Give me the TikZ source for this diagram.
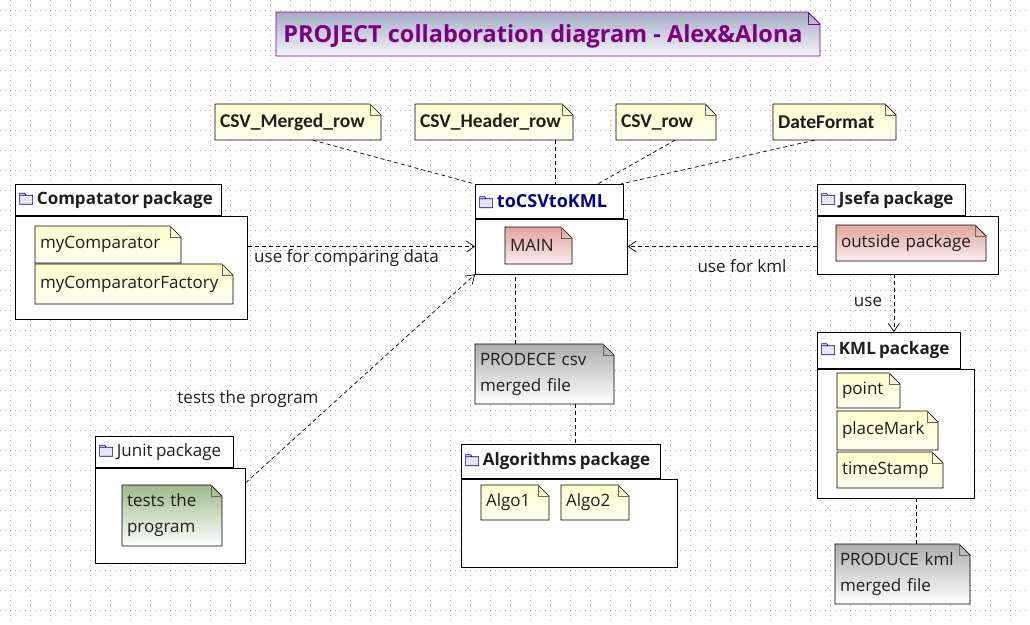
\documentclass[tikz,border=0pt]{standalone}
\usepackage{fontspec}
\setmainfont{Open Sans}
\newfontfamily\calfont{Carlito}
\usetikzlibrary{arrows.meta,calc}
\definecolor{ttlpurple}{HTML}{7F007F}
\definecolor{navy}{HTML}{000080}
\definecolor{ttltop}{HTML}{A4ABC6}
\definecolor{ttlbot}{HTML}{F4F5FA}
\definecolor{txt}{HTML}{1E1E1E}
\definecolor{pinktop}{HTML}{E2A49E}
\definecolor{pinkbot}{HTML}{FBEEEC}
\definecolor{greentop}{HTML}{9DB98A}
\tikzset{
  dep/.style={dash pattern=on 4pt off 3pt, line width=0.7pt},
  deparr/.style={dep, -{Straight Barb[length=8pt,width=11pt,line width=0.7pt]}},
  yellownote/.style={top color=yellow!20, bottom color=yellow!5!white},
  pinknote/.style={top color=pinktop, bottom color=pinkbot},
  graynote/.style={top color=black!32, bottom color=white},
  greennote/.style={top color=greentop, bottom color=white},
  pkgtab/.style={draw, fill=white, line width=0.7pt, anchor=north west, inner xsep=4pt, inner ysep=0pt, align=left, text=txt},
  pkgbody/.style={draw, fill=white, line width=0.7pt, anchor=north west, inner sep=0pt},
  lbl/.style={font=\fontsize{17}{20}\selectfont, inner sep=1pt, text=txt},
}
\newcommand\folder{\tikz[x=1pt,y=1pt,baseline=0pt]{\draw[fill=blue!10, draw=blue!55!black, line width=0.6pt] (0,0) rectangle (13,9) (0,9) -- (0,11) -- (5,11) -- (6.5,9);}\hspace{4pt}}
% name, x1, y1, x2, y2, fill style, text
\newcommand\dognote[7]{%
  \pgfmathsetmacro\nw{#4-#2}\pgfmathsetmacro\nh{#5-#3}%
  \pgfmathsetmacro\ncx{(#2+#4)/2}\pgfmathsetmacro\ncy{(#3+#5)/2}%
  \pgfmathsetmacro\ntw{#4-#2-10}%
  \path[#6, draw=black, line width=0.7pt] (#2,#3) -- ({#4-11},#3) -- (#4,{#3+11}) -- (#4,#5) -- (#2,#5) -- cycle;
  \draw[black!60, line width=0.5pt] ({#4-11},#3) -- ({#4-11},{#3+11}) -- (#4,{#3+11});
  \node[text width=\ntw pt, minimum height=\nh pt, inner xsep=5pt, inner ysep=0pt, align=left, text=txt, font=\fontsize{17}{26}\selectfont] (#1) at (\ncx,\ncy) {#7};
}
% name, x, y, tab width, tab height, body width, body height, title
\newcommand\pkg[8]{%
  \pgfmathsetmacro\ptw{#4-8}%
  \node[pkgtab, text width=\ptw pt, minimum height=#5 pt] (#1-tab) at (#2,#3) {#8};
  \node[pkgbody, minimum width=#6 pt, minimum height=#7 pt] (#1) at (#1-tab.south west) {};
}
\begin{document}
\begin{tikzpicture}[x=1pt,y=-1pt]
\useasboundingbox (0,0) rectangle (1030,624);
\fill[white] (0,0) rectangle (1030,624);
% background grid
\foreach \gy in {10,30,...,620} \draw[black!35, line width=0.5pt, dash pattern=on 0.8pt off 4.2pt] (0,\gy) -- (1030,\gy);
\foreach \gx in {10,30,...,1030} \draw[black!35, line width=0.5pt, dash pattern=on 0.8pt off 4.2pt] (\gx,0) -- (\gx,624);

% title
\path[top color=ttltop, bottom color=ttlbot, draw=ttlpurple, line width=0.8pt] (276,12) -- (808,12) -- (820,24) -- (820,56) -- (276,56) -- cycle;
\draw[ttlpurple, line width=0.5pt] (808,12) -- (808,24) -- (820,24);
\node[font=\fontsize{23.5}{26}\selectfont\bfseries, text=ttlpurple] (title) at (543,36) {PROJECT collaboration diagram - Alex\&Alona};

% top notes
\dognote{csvm}{215}{104}{381}{140}{yellownote}{\calfont\bfseries\fontsize{19.5}{22}\selectfont CSV\_Merged\_row}
\dognote{csvh}{415}{104}{573}{140}{yellownote}{\calfont\bfseries\fontsize{19.5}{22}\selectfont CSV\_Header\_row}
\dognote{csvr}{616}{104}{716}{140}{yellownote}{\calfont\bfseries\fontsize{19.5}{22}\selectfont CSV\_row}
\dognote{datef}{773}{104}{896}{140}{yellownote}{\calfont\bfseries\fontsize{19.5}{22}\selectfont DateFormat}

% packages
\pkg{compat}{15}{184}{206}{31}{232}{103}{\folder\fontsize{17}{20}\selectfont\bfseries Compatator package}
\pkg{tocsv}{475}{184}{148}{34}{152}{55}{\folder\fontsize{18}{20}\selectfont\bfseries\color{navy}toCSVtoKML}
\pkg{jsefa}{817}{184}{148}{31}{181}{58}{\folder\fontsize{17}{20}\selectfont\bfseries Jsefa package}
\pkg{kml}{817}{332}{143}{36}{157}{129}{\folder\fontsize{17}{20}\selectfont\bfseries KML package}
\pkg{junit}{95}{436}{138}{31}{150}{95}{\folder\fontsize{17}{20}\selectfont Junit package}
\pkg{algo}{461}{444}{199}{34}{216}{88}{\folder\fontsize{17}{20}\selectfont\bfseries Algorithms package}

% notes inside packages
\dognote{mycomp}{35}{226}{181}{263}{yellownote}{myComparator}
\dognote{mycompf}{35}{264}{233}{304}{yellownote}{myComparatorFactory}
\dognote{main}{505}{227}{572}{264}{pinknote}{MAIN}
\dognote{outside}{836}{225}{986}{261}{pinknote}{outside package}
\dognote{point}{837}{373}{900}{408}{yellownote}{point}
\dognote{placemark}{837}{411}{938}{450}{yellownote}{placeMark}
\dognote{timestamp}{837}{452}{943}{488}{yellownote}{timeStamp}
\dognote{tests}{122}{485}{222}{546}{greennote}{tests the\\program}
\dognote{algo1}{481}{485}{549}{520}{yellownote}{Algo1}
\dognote{algo2}{561}{485}{629}{520}{yellownote}{Algo2}
\dognote{prodcsv}{475}{344}{614}{404}{graynote}{PRODECE csv\\merged file}
\dognote{prodkml}{835}{544}{970}{604}{graynote}{PRODUCE kml\\merged file}

% connectors
\draw[dep] ([xshift=15pt]csvm.south) -- (tocsv-tab.north west);
\draw[dep] ([xshift=-18pt]csvh.south east) -- ([xshift=-18pt]csvh.south east |- tocsv-tab.north);
\draw[dep] ([xshift=9pt]csvr.south) -- ([xshift=-26pt]tocsv-tab.north east);
\draw[dep] ([xshift=-20pt]datef.south) -- ([xshift=-3pt]tocsv-tab.north east);

\draw[deparr] (compat.east |- tocsv.west) -- (tocsv.west);
\node[lbl, anchor=west] (lcomp) at (253,258) {use for comparing data};
\draw[deparr] (jsefa.west |- tocsv.east) -- (tocsv.east);
\node[lbl] (lkml) at (742,266) {use for kml};
\draw[deparr] ([xshift=-14pt]jsefa.south) -- ([xshift=-14pt]jsefa.south |- kml-tab.north);
\node[lbl] (luse) at (868,302) {use};
\draw[deparr] ([yshift=-15pt]junit.north east) -- (tocsv.south west);
\node[lbl] (ltest) at (248,399) {tests the program};

\draw[dep] ([xshift=-29.5pt]prodcsv.north) -- ([xshift=-29.5pt]prodcsv.north |- tocsv.south);
\draw[dep] ([xshift=30.5pt]prodcsv.south) -- ([xshift=30.5pt]prodcsv.south |- algo-tab.north);
\draw[dep] ([xshift=20.5pt]kml.south) -- ([xshift=20.5pt]kml.south |- prodkml.north);
\end{tikzpicture}
\end{document}
